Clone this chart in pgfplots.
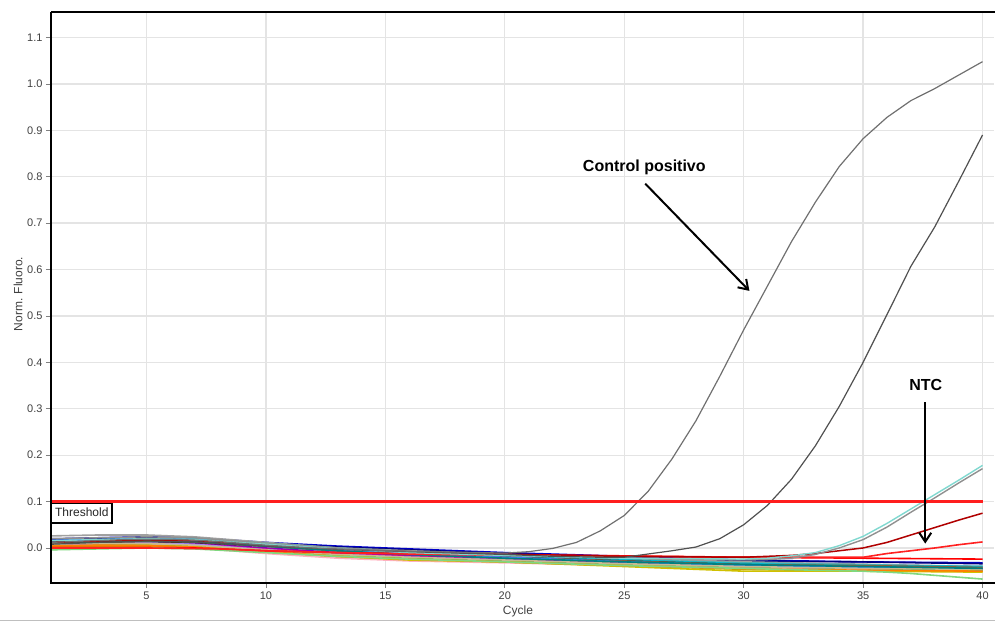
\documentclass[border=0pt]{standalone}
\usepackage{pgfplots}
\pgfplotsset{compat=1.18}
\usepackage{fontspec}
\setmainfont{Liberation Sans}
\usetikzlibrary{arrows.meta}
\definecolor{tickgray}{HTML}{404040}
\definecolor{gridgray}{HTML}{E4E4E4}
\definecolor{thresh}{RGB}{255,30,30}
\begin{document}
\begin{tikzpicture}
\begin{axis}[
  at={(0,0)}, anchor=south west,
  scale only axis, width=943pt, height=571pt,
  xmin=1, xmax=40.48, ymin=-0.0755, ymax=1.155,
  xtick={5,10,15,20,25,30,35,40},
  ytick={0,0.1,0.2,0.3,0.4,0.5,0.6,0.7,0.8,0.9,1.0,1.1},
  yticklabels={0.0,0.1,0.2,0.3,0.4,0.5,0.6,0.7,0.8,0.9,1.0,1.1},
  /pgf/number format/assume math mode=true,
  tick label style={font=\fontsize{11}{13}\selectfont, text=tickgray},
  tick align=outside, xtick pos=bottom, ytick pos=left,
  major tick length=5pt,
  major tick style={draw=gray, line width=0.8pt},
  major grid style={draw=gridgray, line width=1.3pt},
  xmajorgrids, ymajorgrids,
  axis line style={draw=none},
  clip mode=individual,
  xlabel={Cycle}, ylabel={Norm. Fluoro.},
  every axis x label/.style={at={(axis description cs:0.4952,0)}, anchor=center, yshift=-28pt, font=\fontsize{12}{14}\selectfont, text=tickgray},
  every axis y label/.style={at={(axis description cs:0,0.506)}, anchor=center, xshift=-33pt, rotate=90, font=\fontsize{12}{14}\selectfont, text=tickgray},
  no markers,
]
% baseline (negative) samples
\addplot[color={rgb,255:red,0;green,0;blue,204}, line width=1.6pt] coordinates {(1,0.018)(3,0.022)(5,0.024)(7,0.022)(10,0.012)(13,0.004)(16,-0.002)(20,-0.010)(25,-0.018)(30,-0.026)(35,-0.030)(40,-0.032)};
\addplot[color={rgb,255:red,0;green,0;blue,128}, line width=1.6pt] coordinates {(1,0.020)(3,0.021)(5,0.022)(7,0.020)(10,0.010)(13,0.002)(16,-0.004)(20,-0.012)(25,-0.020)(30,-0.028)(35,-0.030)(40,-0.034)};
\addplot[color={rgb,255:red,160;green,160;blue,160}, line width=1.6pt] coordinates {(1,0.026)(3,0.028)(5,0.028)(7,0.024)(10,0.012)(13,0.000)(16,-0.006)(20,-0.014)(25,-0.022)(30,-0.030)(35,-0.035)(40,-0.040)};
\addplot[color={rgb,255:red,80;green,176;blue,176}, line width=1.6pt] coordinates {(1,0.015)(3,0.018)(5,0.020)(7,0.020)(10,0.010)(13,0.000)(16,-0.008)(20,-0.016)(25,-0.025)(30,-0.032)(35,-0.036)(40,-0.040)};
\addplot[color={rgb,255:red,128;green,0;blue,192}, line width=1.6pt] coordinates {(1,0.008)(3,0.010)(5,0.012)(7,0.010)(10,0.000)(13,-0.010)(16,-0.016)(20,-0.022)(25,-0.030)(30,-0.038)(35,-0.042)(40,-0.045)};
\addplot[color={rgb,255:red,192;green,0;blue,160}, line width=1.6pt] coordinates {(1,0.006)(3,0.008)(5,0.010)(7,0.008)(10,-0.002)(13,-0.012)(16,-0.018)(20,-0.025)(25,-0.032)(30,-0.040)(35,-0.044)(40,-0.046)};
\addplot[color={rgb,255:red,160;green,128;blue,255}, line width=1.6pt] coordinates {(1,0.010)(3,0.012)(5,0.012)(7,0.008)(10,-0.004)(13,-0.014)(16,-0.020)(20,-0.026)(25,-0.035)(30,-0.042)(35,-0.045)(40,-0.048)};
\addplot[color={rgb,255:red,255;green,144;blue,128}, line width=1.6pt] coordinates {(1,0.004)(3,0.006)(5,0.006)(7,0.002)(10,-0.010)(13,-0.020)(16,-0.026)(20,-0.030)(25,-0.036)(30,-0.042)(35,-0.046)(40,-0.050)};
\addplot[color={rgb,255:red,255;green,176;blue,192}, line width=1.6pt] coordinates {(1,0.002)(3,0.004)(5,0.004)(7,0.000)(10,-0.012)(13,-0.022)(16,-0.028)(20,-0.032)(25,-0.038)(30,-0.044)(35,-0.048)(40,-0.052)};
\addplot[color={rgb,255:red,32;green,160;blue,32}, line width=1.6pt] coordinates {(1,-0.003)(3,0.000)(5,0.002)(7,0.001)(10,-0.007)(13,-0.015)(16,-0.021)(20,-0.027)(25,-0.034)(30,-0.040)(35,-0.044)(40,-0.047)};
\addplot[color={rgb,255:red,160;green,176;blue,0}, line width=1.6pt] coordinates {(1,0.004)(3,0.006)(5,0.006)(7,0.004)(10,-0.006)(13,-0.016)(16,-0.024)(20,-0.030)(25,-0.038)(30,-0.046)(35,-0.050)(40,-0.050)};
\addplot[color={rgb,255:red,208;green,192;blue,0}, line width=1.6pt] coordinates {(1,0.003)(3,0.004)(5,0.004)(7,0.002)(10,-0.008)(13,-0.018)(16,-0.026)(20,-0.030)(25,-0.040)(30,-0.050)(35,-0.050)(40,-0.052)};
\addplot[color={rgb,255:red,255;green,128;blue,0}, line width=1.6pt] coordinates {(1,0.005)(3,0.006)(5,0.005)(7,0.002)(10,-0.008)(13,-0.018)(16,-0.024)(20,-0.030)(25,-0.038)(30,-0.045)(35,-0.048)(40,-0.050)};
\addplot[color={rgb,255:red,0;green,184;blue,208}, line width=1.6pt] coordinates {(1,0.014)(3,0.016)(5,0.018)(7,0.016)(10,0.006)(13,-0.004)(16,-0.012)(20,-0.018)(25,-0.026)(30,-0.034)(35,-0.038)(40,-0.040)};
\addplot[color={rgb,255:red,32;green,32;blue,32}, line width=1.6pt] coordinates {(1,0.010)(3,0.012)(5,0.014)(7,0.012)(10,0.004)(13,-0.006)(16,-0.012)(20,-0.020)(25,-0.028)(30,-0.036)(35,-0.040)(40,-0.044)};
\addplot[color={rgb,255:red,128;green,96;blue,64}, line width=1.6pt] coordinates {(1,0.012)(3,0.014)(5,0.015)(7,0.013)(10,0.004)(13,-0.006)(16,-0.012)(20,-0.020)(25,-0.028)(30,-0.036)(35,-0.038)(40,-0.042)};
\addplot[color={rgb,255:red,64;green,128;blue,255}, line width=1.6pt] coordinates {(1,0.016)(3,0.018)(5,0.020)(7,0.018)(10,0.006)(13,-0.004)(16,-0.012)(20,-0.020)(25,-0.030)(30,-0.038)(35,-0.042)(40,-0.046)};
\addplot[color={rgb,255:red,200;green,184;blue,144}, line width=1.6pt] coordinates {(1,0.008)(3,0.010)(5,0.010)(7,0.006)(10,-0.004)(13,-0.014)(16,-0.020)(20,-0.026)(25,-0.034)(30,-0.040)(35,-0.044)(40,-0.046)};
\addplot[color={rgb,255:red,0;green,128;blue,128}, line width=1.6pt] coordinates {(1,0.012)(3,0.014)(5,0.016)(7,0.014)(10,0.004)(13,-0.006)(16,-0.014)(20,-0.022)(25,-0.030)(30,-0.036)(35,-0.040)(40,-0.044)};
\addplot[color={rgb,255:red,255;green,0;blue,0}, line width=1.6pt] coordinates {(1,0.001)(3,0.001)(5,0.001)(7,0.000)(10,-0.006)(13,-0.010)(16,-0.012)(20,-0.014)(25,-0.017)(30,-0.020)(35,-0.022)(40,-0.024)};
% light green, drifting down
\addplot[color={rgb,255:red,128;green,216;blue,128}, line width=1.6pt] coordinates {(1,-0.004)(3,-0.002)(5,0.000)(7,-0.002)(10,-0.010)(13,-0.018)(16,-0.024)(20,-0.030)(25,-0.038)(30,-0.044)(33,-0.048)(35,-0.050)(36,-0.052)(37,-0.055)(38,-0.059)(39,-0.063)(40,-0.067)};
% late risers
\addplot[color={rgb,255:red,255;green,32;blue,32}, line width=1.6pt] coordinates {(1,0.000)(5,0.000)(8,-0.002)(10,-0.006)(13,-0.010)(16,-0.013)(20,-0.016)(25,-0.018)(30,-0.020)(35,-0.020)(36,-0.012)(37,-0.006)(38,0.000)(39,0.007)(40,0.013)};
\addplot[color={rgb,255:red,176;green,0;blue,0}, line width=1.5pt] coordinates {(1,0.012)(3,0.015)(5,0.017)(7,0.016)(10,0.008)(13,-0.002)(16,-0.008)(20,-0.014)(25,-0.018)(30,-0.020)(32,-0.016)(33,-0.012)(34,-0.006)(35,0.000)(36,0.012)(37,0.028)(38,0.044)(39,0.060)(40,0.075)};
\addplot[color={rgb,255:red,144;green,144;blue,144}, line width=1.4pt] coordinates {(1,0.020)(3,0.022)(5,0.024)(7,0.022)(10,0.010)(13,0.000)(16,-0.008)(20,-0.016)(25,-0.022)(30,-0.026)(31,-0.025)(32,-0.022)(33,-0.014)(34,0.000)(35,0.018)(36,0.045)(37,0.077)(38,0.108)(39,0.140)(40,0.171)};
\addplot[color={rgb,255:red,128;green,216;blue,208}, line width=1.4pt] coordinates {(1,0.016)(3,0.018)(5,0.020)(7,0.018)(10,0.008)(13,-0.002)(16,-0.010)(20,-0.016)(25,-0.022)(30,-0.024)(31,-0.022)(32,-0.017)(33,-0.010)(34,0.005)(35,0.025)(36,0.053)(37,0.084)(38,0.115)(39,0.146)(40,0.178)};
% positive controls
\addplot[color={rgb,255:red,80;green,80;blue,80}, line width=1.2pt] coordinates {(1,0.008)(3,0.012)(5,0.015)(7,0.013)(10,0.004)(13,-0.003)(16,-0.008)(20,-0.014)(21,-0.016)(22,-0.018)(23,-0.019)(24,-0.020)(25,-0.020)(26,-0.013)(27,-0.006)(28,0.002)(29,0.020)(30,0.050)(31,0.092)(32,0.148)(33,0.220)(34,0.305)(35,0.400)(36,0.503)(37,0.607)(38,0.692)(39,0.790)(40,0.890)};
\addplot[color={rgb,255:red,112;green,112;blue,112}, line width=1.2pt] coordinates {(1,0.012)(2,0.014)(3,0.016)(4,0.018)(5,0.019)(6,0.019)(7,0.017)(8,0.014)(9,0.010)(10,0.006)(11,0.003)(12,0.000)(13,-0.002)(14,-0.004)(15,-0.006)(16,-0.007)(17,-0.008)(18,-0.009)(19,-0.010)(20,-0.011)(21,-0.008)(22,-0.001)(23,0.012)(24,0.037)(25,0.070)(26,0.122)(27,0.192)(28,0.274)(29,0.370)(30,0.470)(31,0.565)(32,0.660)(33,0.745)(34,0.822)(35,0.882)(36,0.928)(37,0.964)(38,0.990)(39,1.019)(40,1.048)};
% threshold
\addplot[draw=thresh, line width=2.2pt] coordinates {(1,0.1)(40,0.1)};
\node[draw=black, line width=1.2pt, fill=white, anchor=north west, inner xsep=3.5pt, inner ysep=4pt, text height=9pt, text depth=2.5pt, font=\fontsize{12}{14}\selectfont, text=black!85] at (axis cs:1,0.097) {Threshold};
% annotations
\node[font=\bfseries\fontsize{16}{18}\selectfont] at (axis cs:25.84,0.8205) {Control positivo};
\draw[line width=2pt, -{Straight Barb[length=9pt,width=12pt]}] (axis cs:25.88,0.785) -- (axis cs:30.24,0.554);
\node[font=\bfseries\fontsize{16}{18}\selectfont] at (axis cs:37.62,0.351) {NTC};
\draw[line width=2pt, -{Straight Barb[length=9pt,width=12pt]}] (axis cs:37.60,0.314) -- (axis cs:37.60,0.0095);
\end{axis}
% frame
\draw[black, line width=1.2pt] (0pt,571pt) -- (944pt,571pt);
\draw[black, line width=2.6pt] (0pt,571pt) -- (0pt,0pt) -- (944pt,0pt);
\draw[gray!50, line width=1pt] (-51pt,-37.5pt) -- (944pt,-37.5pt);
\pgfresetboundingbox
\path (-51pt,-39pt) rectangle (944pt,583pt);
\end{tikzpicture}
\end{document}
